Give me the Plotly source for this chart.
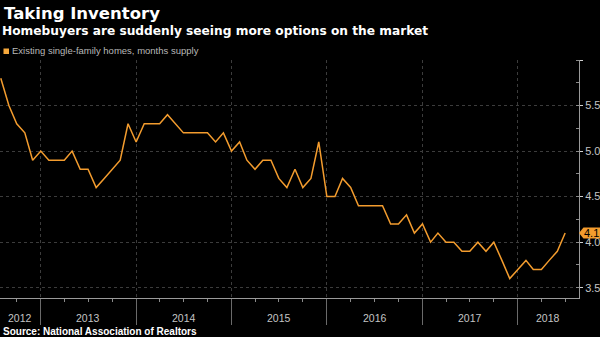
import pandas as pd
import plotly.graph_objects as go

# ---- data ----
dates = pd.date_range("2012-08-01", "2018-07-01", freq="MS")
supply = [5.8, 5.5, 5.3, 5.2, 4.9,
          5.0, 4.9, 4.9, 4.9, 5.0, 4.8, 4.8, 4.6, 4.7, 4.8, 4.9, 5.3,
          5.1, 5.3, 5.3, 5.3, 5.4, 5.3, 5.2, 5.2, 5.2, 5.2, 5.1, 5.2,
          5.0, 5.1, 4.9, 4.8, 4.9, 4.9, 4.7, 4.6, 4.8, 4.6, 4.7, 5.1,
          4.5, 4.5, 4.7, 4.6, 4.4, 4.4, 4.4, 4.4, 4.2, 4.2, 4.3, 4.1,
          4.2, 4.0, 4.1, 4.0, 4.0, 3.9, 3.9, 4.0, 3.9, 4.0, 3.8, 3.6,
          3.7, 3.8, 3.7, 3.7, 3.8, 3.9, 4.1]
year_labels = ["2012", "2013", "2014", "2015", "2016", "2017", "2018"]
y_ticks = [3.5, 4.0, 4.5, 5.0, 5.5, 6.0]
y_ticktext = ["3.5", "4.0", "4.5", "5.0", "5.5", ""]
series_name = "Existing single-family homes, months supply"
title = "Taking Inventory"
subtitle = "Homebuyers are suddenly seeing more options on the market"
source = "Source: National Association of Realtors"

# ---- style ----
W, H = 600, 337
ML, MR, MT, MB = 0, 21, 60, 39
ORANGE = "#f39c2e"
LABEL = "#c4c4c4"
GRID = "#3c3c3c"
AXIS = "#9a9a9a"
FONT = "Liberation Sans, Arial, sans-serif"
HEAD = "DejaVu Sans, Verdana, sans-serif"
x_range = [pd.Timestamp("2012-07-29"), pd.Timestamp("2018-08-23")]
y_range = [3.387, 6.0]


def py(y):
    return (H - MB - y) / (H - MB - MT)


def px(x):
    return (x - ML) / (W - ML - MR)


fig = go.Figure()
fig.add_trace(go.Scatter(x=dates, y=supply, mode="lines",
                         line=dict(color=ORANGE, width=1.5),
                         showlegend=False, hoverinfo="skip"))

year_starts = [pd.Timestamp(f"{y}-01-01") for y in year_labels]

annotations = []
# year labels centred on visible part of each year
for y in year_labels:
    s = max(pd.Timestamp(f"{y}-01-01"), x_range[0])
    e = min(pd.Timestamp(f"{int(y) + 1}-01-01"), x_range[1])
    mid = s + (e - s) / 2
    annotations.append(dict(x=mid, y=py(318), xref="x", yref="paper",
                            text=y, showarrow=False, xanchor="center", yanchor="middle",
                            font=dict(family=FONT, size=10.5, color=LABEL)))

annotations += [
    dict(x=px(2), y=py(13.5), xref="paper", yref="paper", text=title,
         showarrow=False, xanchor="left", yanchor="middle",
         font=dict(family=HEAD, size=16.5, color="#ffffff", weight=700)),
    dict(x=px(0), y=py(30.5), xref="paper", yref="paper", text=subtitle,
         showarrow=False, xanchor="left", yanchor="middle",
         font=dict(family=HEAD, size=12.2, color="#ffffff", weight=700)),
    dict(x=px(10), y=py(51), xref="paper", yref="paper",
         text=series_name,
         showarrow=False, xanchor="left", yanchor="middle",
         font=dict(family=FONT, size=9.5, color="#b8b8b8")),
    dict(x=px(1), y=py(331), xref="paper", yref="paper", text=source,
         showarrow=False, xanchor="left", yanchor="middle",
         font=dict(family=FONT, size=10, color="#ffffff", weight=700)),
    dict(x=px(591.5), y=supply[-1], xref="paper", yref="y", text=f"{supply[-1]:.1f}",
         showarrow=False, xanchor="center", yanchor="middle",
         font=dict(family=FONT, size=11, color="#000000")),
]

# last value tag shape
h = 5.5 / (H - MB - MT) * (y_range[1] - y_range[0])
v = supply[-1]
tag_path = (f"M {px(579)},{v} L {px(583.5)},{v + h} L {px(600)},{v + h} "
            f"L {px(600)},{v - h} L {px(583.5)},{v - h} Z")

shapes = [
    dict(type="path", path=tag_path, xref="paper", yref="y",
         fillcolor=ORANGE, line=dict(width=0), layer="above"),
    # legend swatch
    dict(type="rect", xref="paper", yref="paper", x0=px(3.5), x1=px(9), y0=py(54), y1=py(48.5),
         fillcolor="#f6a83c", line=dict(width=0)),
]

fig.update_layout(
    width=W, height=H,
    margin=dict(l=ML, r=MR, t=MT, b=MB),
    paper_bgcolor="#000000", plot_bgcolor="#000000",
    annotations=annotations,
    shapes=shapes,
    xaxis=dict(range=x_range, tickvals=year_starts, showticklabels=False,
               ticks="outside", ticklen=26, tickcolor="#6a6a6a", tickwidth=1,
               showgrid=True, gridcolor=GRID, griddash="dot", gridwidth=1,
               showline=True, linecolor=AXIS, linewidth=1, zeroline=False,
               minor=dict(dtick="M3", tick0="2013-01-01", ticks="outside", ticklen=3,
                          tickcolor="#8a8a8a", showgrid=False)),
    yaxis=dict(range=y_range, side="right", tickvals=y_ticks, ticktext=y_ticktext,
               ticks="outside", ticklen=3, tickcolor="#d0d0d0",
               tickfont=dict(family=FONT, size=11, color=LABEL),
               showgrid=True, gridcolor=GRID, griddash="dot", gridwidth=1,
               showline=True, linecolor=AXIS, linewidth=1, zeroline=False,
               minor=dict(dtick=0.25, tick0=3.5, ticks="inside", ticklen=3,
                          tickcolor="#8a8a8a", showgrid=False)),
)

fig.write_html("out.html")
